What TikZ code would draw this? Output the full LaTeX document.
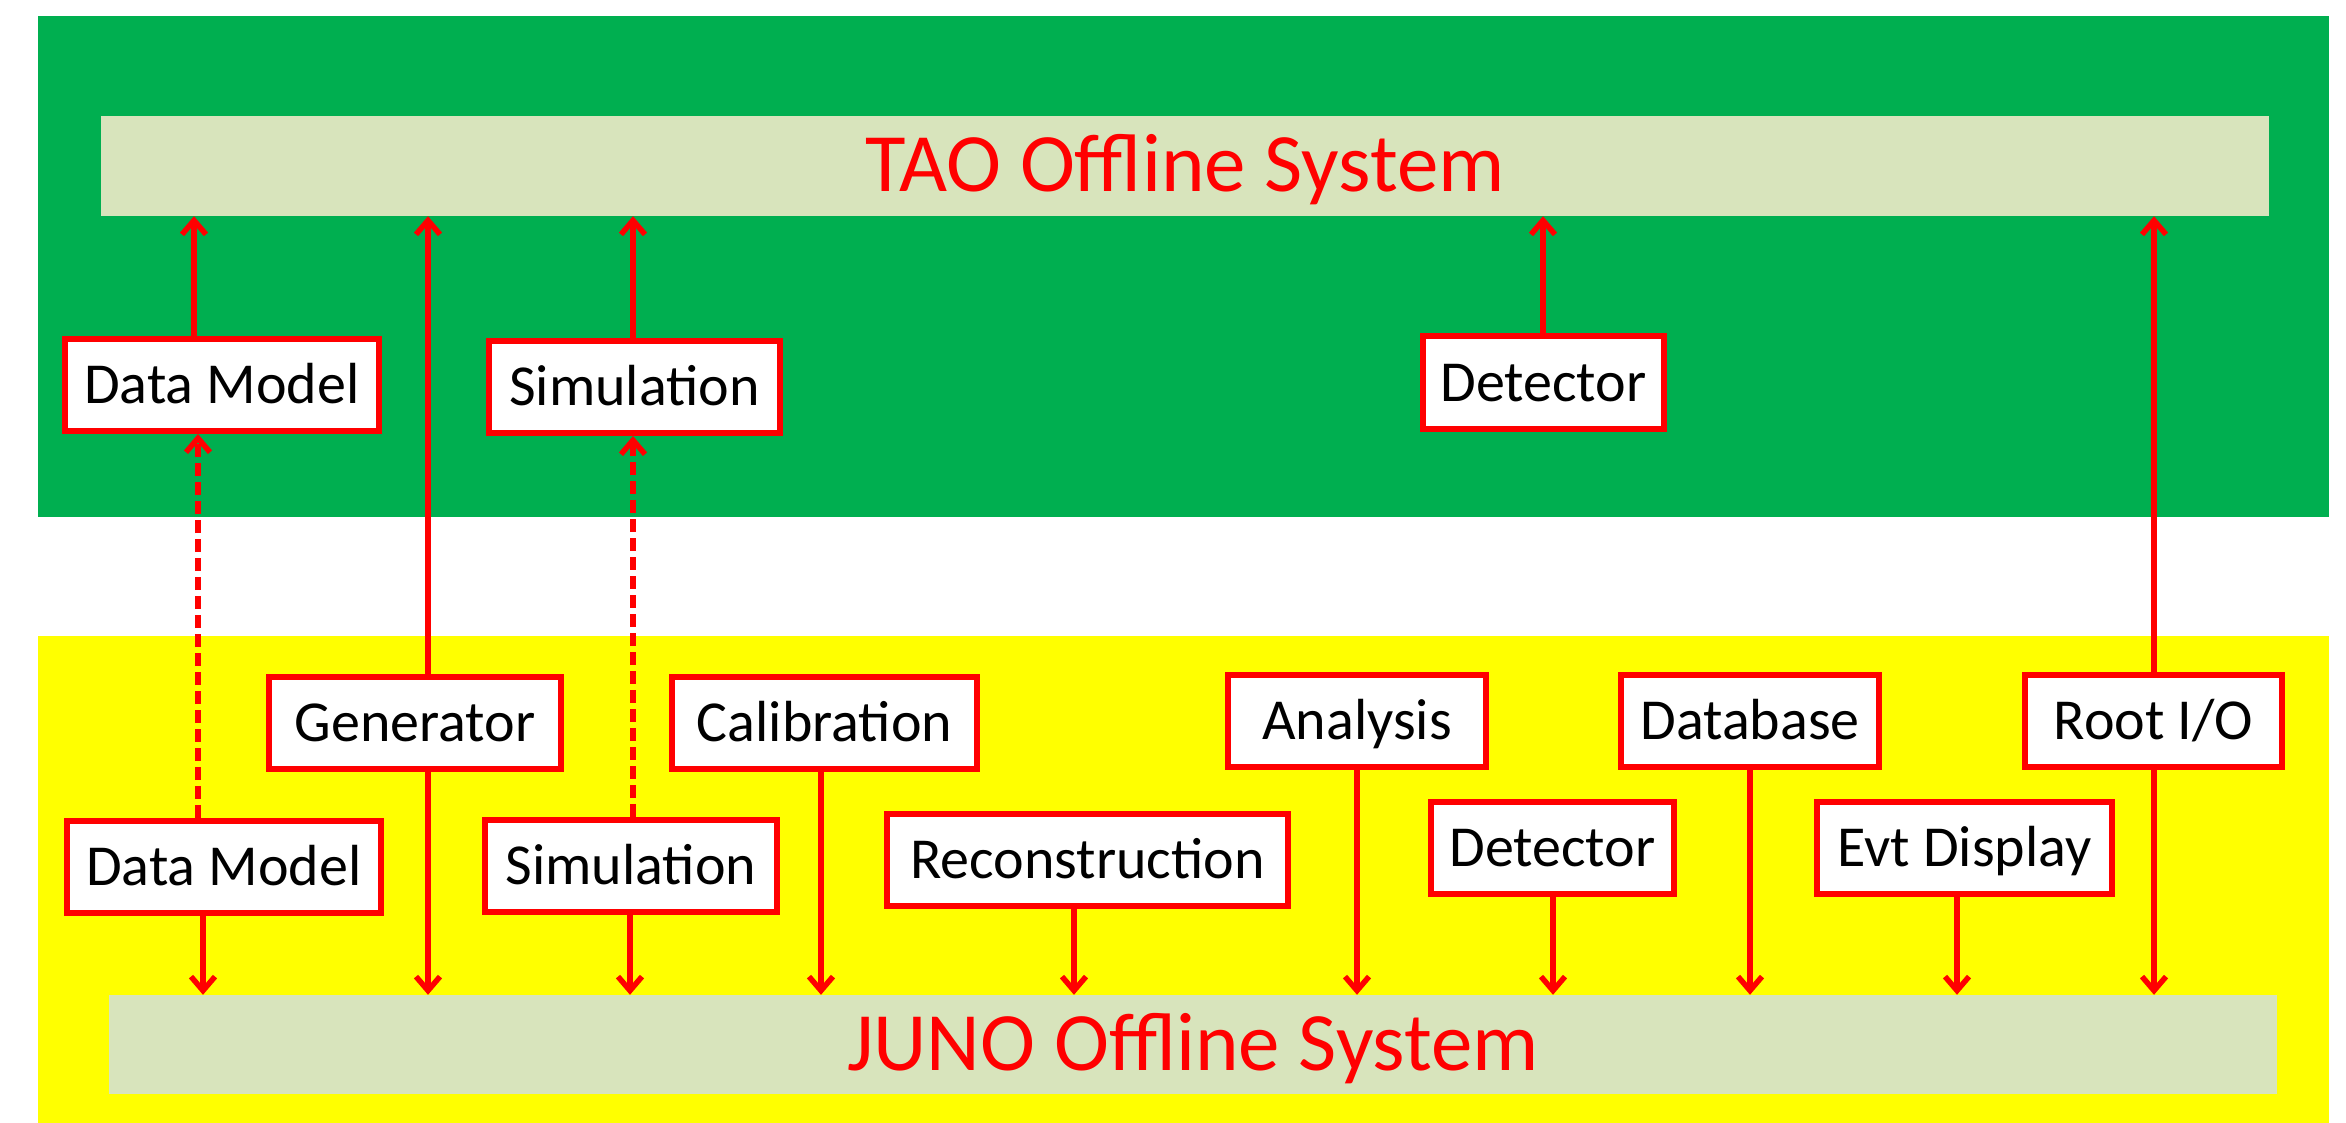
\documentclass[tikz,border=0pt]{standalone}
\usepackage{fontspec}
\setmainfont{Carlito}
\usetikzlibrary{arrows.meta}
\definecolor{bggreen}{HTML}{00AF50}
\definecolor{bgyellow}{HTML}{FFFF00}
\definecolor{barfill}{HTML}{D8E4BC}
\definecolor{linered}{HTML}{FF0000}
\begin{document}
\begin{tikzpicture}[x=1pt,y=-1pt,
  modbox/.style={draw=linered, line width=6pt, fill=white, inner sep=0pt,
    font=\fontsize{58}{70}\selectfont, minimum height=92pt,
    text height=37pt, text depth=0pt},
  sysbar/.style={fill=barfill, inner sep=0pt, text=linered,
    font=\fontsize{83}{99}\selectfont, text height=52pt, text depth=0pt},
  conn/.style={draw=linered, line width=5.5pt, -{Straight Barb[length=14pt,width=24pt]}},
  dconn/.style={conn, dash pattern=on 13pt off 6pt}]
\useasboundingbox (0,0) rectangle (2346,1123);
% backgrounds
\fill[bggreen] (38,16) rectangle (2329,517);
\fill[bgyellow] (38,636) rectangle (2329,1123);
% system bars
\node[sysbar, minimum width=2168pt, minimum height=100pt] (tao) at (1185,166) {TAO Offline System};
\node[sysbar, minimum width=2168pt, minimum height=99pt] (juno) at (1193,1044.5) {JUNO Offline System};
% TAO modules
\node[modbox, minimum width=314pt] (tdm) at (222,385) {Data Model};
\node[modbox, minimum width=291pt] (tsim) at (634.5,387) {Simulation};
\node[modbox, minimum width=241pt] (tdet) at (1543.5,382.5) {Detector};
% JUNO modules
\node[modbox, minimum width=292pt] (gen) at (415,723) {Generator};
\node[modbox, minimum width=305pt] (calib) at (824.5,723) {Calibration};
\node[modbox, minimum width=258pt] (ana) at (1357,720.5) {Analysis};
\node[modbox, minimum width=258pt] (db) at (1750,720.5) {Database};
\node[modbox, minimum width=257pt] (rio) at (2153.5,720.5) {Root I/O};
\node[modbox, minimum width=314pt] (bdm) at (224,867) {Data Model};
\node[modbox, minimum width=292pt] (bsim) at (631,865.5) {Simulation};
\node[modbox, minimum width=401pt] (reco) at (1087.5,859.5) {Reconstruction};
\node[modbox, minimum width=243pt] (bdet) at (1552.5,847.5) {Detector};
\node[modbox, minimum width=295pt] (evt) at (1964.5,847.5) {Evt Display};
% arrows up to TAO
\draw[conn] (tdm.north -| 194,0) -- (tao.south -| 194,0);
\draw[conn] (gen.north -| 428,0) -- (tao.south -| 428,0);
\draw[conn] (tsim.north -| 633,0) -- (tao.south -| 633,0);
\draw[conn] (tdet.north -| 1543,0) -- (tao.south -| 1543,0);
\draw[conn] (rio.north -| 2154,0) -- (tao.south -| 2154,0);
% dashed links JUNO -> TAO modules
\draw[dconn] (bdm.north -| 198,0) -- (tdm.south -| 198,0);
\draw[dconn] (bsim.north -| 633,0) -- (tsim.south -| 633,0);
% arrows down to JUNO
\draw[conn] (bdm.south -| 203,0) -- (juno.north -| 203,0);
\draw[conn] (gen.south -| 428,0) -- (juno.north -| 428,0);
\draw[conn] (bsim.south -| 630,0) -- (juno.north -| 630,0);
\draw[conn] (calib.south -| 821,0) -- (juno.north -| 821,0);
\draw[conn] (reco.south -| 1074,0) -- (juno.north -| 1074,0);
\draw[conn] (ana.south -| 1357,0) -- (juno.north -| 1357,0);
\draw[conn] (bdet.south -| 1553,0) -- (juno.north -| 1553,0);
\draw[conn] (db.south -| 1750,0) -- (juno.north -| 1750,0);
\draw[conn] (evt.south -| 1957,0) -- (juno.north -| 1957,0);
\draw[conn] (rio.south -| 2154,0) -- (juno.north -| 2154,0);
\end{tikzpicture}
\end{document}
